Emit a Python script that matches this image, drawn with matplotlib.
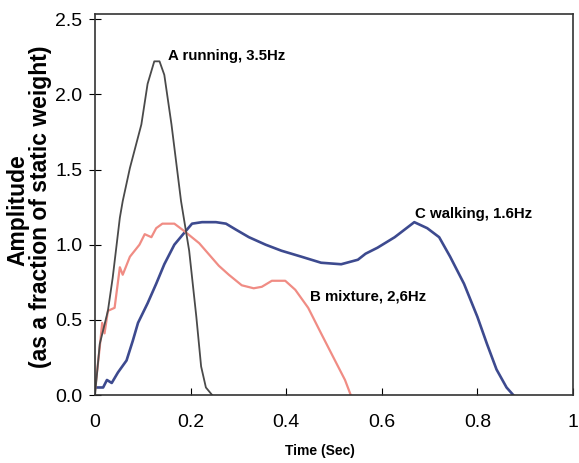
import numpy as np
import matplotlib
matplotlib.use("Agg")
import matplotlib.pyplot as plt

# A running, 3.5Hz
t_a = [0.0, 0.01, 0.027, 0.037, 0.052, 0.058, 0.073, 0.097, 0.11, 0.124,
       0.135, 0.145, 0.16, 0.18, 0.197, 0.212, 0.222, 0.232, 0.245]
amp_a = [0.0, 0.34, 0.56, 0.78, 1.18, 1.29, 1.51, 1.80, 2.07, 2.22,
         2.22, 2.13, 1.80, 1.29, 0.96, 0.52, 0.19, 0.05, 0.0]

# B mixture, 2,6Hz
t_b = [0.0, 0.01, 0.015, 0.02, 0.027, 0.041, 0.052, 0.058, 0.073, 0.093,
       0.104, 0.118, 0.128, 0.141, 0.166, 0.187, 0.218, 0.259, 0.28, 0.307,
       0.332, 0.349, 0.37, 0.398, 0.419, 0.446, 0.473, 0.502, 0.523, 0.535]
amp_b = [0.03, 0.32, 0.48, 0.41, 0.56, 0.58, 0.85, 0.80, 0.92, 1.0,
         1.07, 1.05, 1.11, 1.14, 1.14, 1.09, 1.01, 0.86, 0.80, 0.73,
         0.71, 0.72, 0.76, 0.76, 0.70, 0.58, 0.41, 0.23, 0.10, 0.0]

# C walking, 1.6Hz
t_c = [0.0, 0.017, 0.025, 0.035, 0.048, 0.066, 0.079, 0.09, 0.11, 0.128,
       0.145, 0.166, 0.187, 0.203, 0.224, 0.253, 0.274, 0.295, 0.322, 0.357,
       0.39, 0.432, 0.473, 0.515, 0.55, 0.566, 0.591, 0.627, 0.668, 0.695,
       0.72, 0.743, 0.772, 0.8, 0.82, 0.84, 0.861, 0.875]
amp_c = [0.05, 0.05, 0.10, 0.08, 0.15, 0.23, 0.36, 0.48, 0.61, 0.74,
         0.87, 1.0, 1.08, 1.14, 1.15, 1.15, 1.14, 1.10, 1.05, 1.0,
         0.96, 0.92, 0.88, 0.87, 0.90, 0.94, 0.98, 1.05, 1.15, 1.11,
         1.05, 0.92, 0.74, 0.52, 0.34, 0.17, 0.05, 0.0]

xticks = [0, 0.2, 0.4, 0.6, 0.8, 1]
xtick_labels = ["0", "0.2", "0.4", "0.6", "0.8", "1"]
yticks = [0.0, 0.5, 1.0, 1.5, 2.0, 2.5]

font = ["Liberation Sans", "DejaVu Sans"]

fig = plt.figure(figsize=(5.79, 4.63), dpi=100)
ax = fig.add_axes([95 / 579, 1 - 395 / 463, (573 - 95) / 579, (395 - 14) / 463])

ax.plot(t_c, amp_c, color="#3d4a8f", lw=1.9)
ax.plot(t_b, amp_b, color="#f08c84", lw=1.6)
ax.plot(t_a, amp_a, color="#4a4a4a", lw=1.3)

ax.set_xlim(0, 1)
ax.set_ylim(0, 2.535)
ax.set_xticks(xticks)
ax.set_xticklabels(xtick_labels)
ax.set_yticks(yticks)
ax.set_yticklabels([f"{v:.1f}" for v in yticks])
ax.tick_params(axis="x", direction="in", length=5, pad=14, labelsize=14)
ax.tick_params(axis="y", direction="inout", length=8, pad=5, labelsize=14)
for lab in ax.get_xticklabels() + ax.get_yticklabels():
    lab.set_family(font)
for sp in ax.spines.values():
    sp.set_linewidth(1.2)
    sp.set_color("#333333")

ax.text(0.152, 2.23, "A running, 3.5Hz", family=font, fontweight="bold", fontsize=10.8)
ax.text(0.449, 0.63, "B mixture, 2,6Hz", family=font, fontweight="bold", fontsize=10.8)
ax.text(0.67, 1.18, "C walking, 1.6Hz", family=font, fontweight="bold", fontsize=10.8)

ax.set_xlabel("Time (Sec)", family=font, fontweight="bold", fontsize=10)
ax.xaxis.set_label_coords(0.47, -0.128)

# two-line y label, placed line by line
fig.text(18 / 579, 1 - 210 / 463, "Amplitude", family=font, fontweight="bold",
         fontsize=16.5, rotation=90, ha="center", va="center")
fig.text(41 / 579, 1 - 207 / 463, "(as a fraction of static weight)", family=font,
         fontweight="bold", fontsize=16.5, rotation=90, ha="center", va="center")

fig.savefig("out.png", dpi=100)
